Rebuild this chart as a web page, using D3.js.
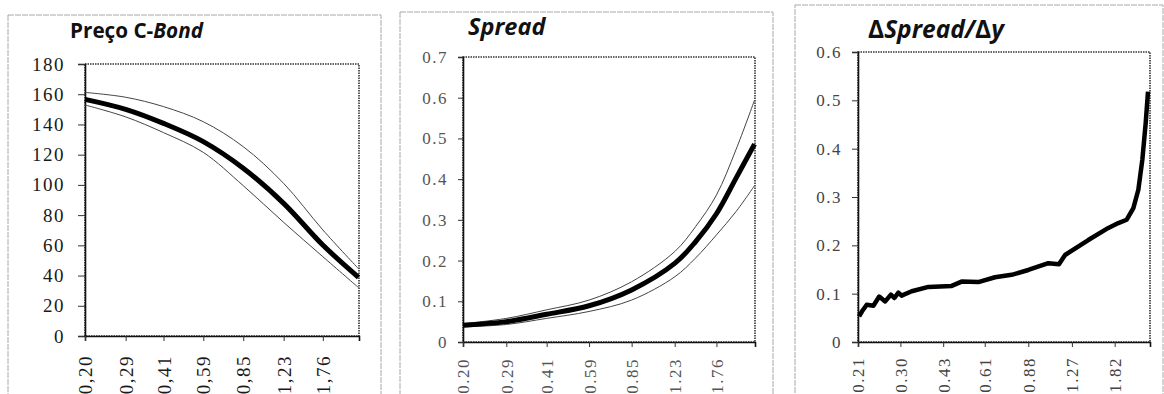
<!DOCTYPE html>
<html>
<head>
<meta charset="utf-8">
<script src="https://cdn.jsdelivr.net/npm/d3@7"></script>
<style>
  html, body { margin: 0; padding: 0; background: #fff; }
  svg { display: block; }
</style>
</head>
<body>
<svg id="chart" width="1164" height="394"></svg>
<script>
// ---- Preço C-Bond (price with upper / lower bands) ----
const priceX     = [0.20, 0.29, 0.41, 0.59, 0.85, 1.23, 1.76, 2.44];
const priceMid   = [156.6, 150.0, 140.7, 128.6, 111.0, 87.8, 60.2, 38.8];
const priceUpper = [161.2, 158.0, 151.8, 141.8, 125.3, 101.0, 70.2, 44.5];
const priceLower = [152.9, 145.0, 134.6, 121.5, 99.5, 75.2, 52.5, 32.0];
const priceTicksX = [0.20, 0.29, 0.41, 0.59, 0.85, 1.23, 1.76];
const priceTicksY = [0, 20, 40, 60, 80, 100, 120, 140, 160, 180];

// ---- Spread (with upper / lower bands) ----
const spreadX     = [0.20, 0.29, 0.41, 0.59, 0.85, 1.23, 1.47, 1.76, 2.08, 2.44];
const spreadMid   = [0.041, 0.050, 0.068, 0.089, 0.128, 0.193, 0.246, 0.315, 0.402, 0.486];
const spreadUpper = [0.045, 0.058, 0.079, 0.103, 0.148, 0.222, 0.283, 0.361, 0.472, 0.594];
const spreadLower = [0.037, 0.043, 0.058, 0.075, 0.103, 0.160, 0.206, 0.263, 0.320, 0.384];
const spreadTicksX = [0.20, 0.29, 0.41, 0.59, 0.85, 1.23, 1.76];
const spreadTicksY = [0, 0.1, 0.2, 0.3, 0.4, 0.5, 0.6, 0.7];

// ---- ΔSpread/Δy ----
const deltaX = [0.212, 0.217, 0.226, 0.239, 0.251, 0.264, 0.277, 0.285, 0.295, 0.303,
                0.330, 0.380, 0.462, 0.502, 0.578, 0.665, 0.765, 0.880, 1.042, 1.139,
                1.199, 1.458, 1.726, 1.877, 2.014, 2.130, 2.221, 2.297, 2.363, 2.409];
const deltaY = [0.053, 0.063, 0.077, 0.075, 0.094, 0.084, 0.098, 0.091, 0.102, 0.096,
                0.105, 0.114, 0.116, 0.125, 0.124, 0.134, 0.139, 0.149, 0.163, 0.161,
                0.180, 0.211, 0.236, 0.246, 0.253, 0.277, 0.315, 0.377, 0.453, 0.518];
const deltaTicksX = [0.21, 0.30, 0.43, 0.61, 0.88, 1.27, 1.82];
const deltaTicksY = [0, 0.1, 0.2, 0.3, 0.4, 0.5, 0.6];

const zip = (xs, ys) => xs.map((x, i) => ({ x, y: ys[i] }));

const SERIF = "'Liberation Serif', 'Times New Roman', serif";
const SANS = "'Open Sans', 'Noto Sans', sans-serif";

const panels = [
  {
    frame: { x: 8, y: 15, w: 373, h: 400 },
    plot: { l: 85, t: 64, r: 359, b: 336 },
    title: [{ t: "Preço C-", italic: false }, { t: "Bond", italic: true }],
    titlePos: [70, 38], titleSize: 20.7,
    xDomain: [0.20, 2.45], yDomain: [0, 180],
    xTicks: priceTicksX, yTicks: priceTicksY,
    xFmt: d => d.toFixed(2).replace(".", ","),
    yFmt: d => String(d),
    font: 19, spacing: 1.5, labelColor: "#1a1a1a", yTickLen: 7, yPad: 13, xLabelGap: 19,
    series: [
      { data: zip(priceX, priceUpper), w: 1, c: "#444" },
      { data: zip(priceX, priceLower), w: 1, c: "#444" },
      { data: zip(priceX, priceMid), w: 5, c: "#000" }
    ],
    curve: d3.curveCatmullRom
  },
  {
    frame: { x: 400, y: 12, w: 373, h: 400 },
    plot: { l: 463, t: 57, r: 755, b: 342 },
    title: [{ t: "Spread", italic: true }],
    titlePos: [468, 35], titleSize: 23.5,
    xDomain: [0.20, 2.45], yDomain: [0, 0.7],
    xTicks: spreadTicksX, yTicks: spreadTicksY,
    xFmt: d => d.toFixed(2),
    yFmt: d => d === 0 ? "0" : d.toFixed(1),
    font: 17, spacing: 1.5, labelColor: "#555", yTickLen: 5, yPad: 10, xLabelGap: 16,
    series: [
      { data: zip(spreadX, spreadUpper), w: 1, c: "#444" },
      { data: zip(spreadX, spreadLower), w: 1, c: "#444" },
      { data: zip(spreadX, spreadMid), w: 5, c: "#000" }
    ],
    curve: d3.curveCatmullRom
  },
  {
    frame: { x: 795, y: 5, w: 368, h: 400 },
    plot: { l: 858, t: 52, r: 1150, b: 342 },
    title: [{ t: "\u0394", italic: false }, { t: "Spread", italic: true }, { t: "/", italic: true },
            { t: "\u0394", italic: false }, { t: "y", italic: true }],
    titlePos: [868, 38], titleSize: 24.5,
    xDomain: [0.21, 2.45], yDomain: [0, 0.6],
    xTicks: deltaTicksX, yTicks: deltaTicksY,
    xFmt: d => d.toFixed(2),
    yFmt: d => d === 0 ? "0" : d.toFixed(1),
    font: 17, spacing: 1.5, labelColor: "#444", yTickLen: 6, yPad: 10, xLabelGap: 15,
    series: [
      { data: zip(deltaX, deltaY), w: 4.5, c: "#000" }
    ],
    curve: d3.curveLinear
  }
];

const svg = d3.select("#chart");

panels.forEach(p => {
  const g = svg.append("g");

  // outer chart frame
  g.append("rect")
    .attr("x", p.frame.x).attr("y", p.frame.y)
    .attr("width", p.frame.w).attr("height", p.frame.h)
    .attr("fill", "none").attr("stroke", "#a8a8a8")
    .attr("stroke-width", 1).attr("stroke-dasharray", "6,1");

  // title
  const title = g.append("text")
    .attr("x", p.titlePos[0]).attr("y", p.titlePos[1])
    .style("font-family", SANS)
    .style("font-weight", 700).style("font-size", p.titleSize + "px").attr("fill", "#111");
  p.title.forEach(s => {
    title.append("tspan").text(s.t).style("font-style", s.italic ? "italic" : "normal");
  });

  const x = d3.scaleLog().domain(p.xDomain).range([p.plot.l, p.plot.r]);
  const y = d3.scaleLinear().domain(p.yDomain).range([p.plot.b, p.plot.t]);

  // plot area border (dotted)
  g.append("rect")
    .attr("x", p.plot.l).attr("y", p.plot.t)
    .attr("width", p.plot.r - p.plot.l).attr("height", p.plot.b - p.plot.t)
    .attr("fill", "none").attr("stroke", "#333")
    .attr("stroke-width", 1.6).attr("stroke-dasharray", "1.5,1");

  // y axis
  const yAxis = g.append("g")
    .attr("transform", `translate(${p.plot.l},0)`)
    .call(d3.axisLeft(y).tickValues(p.yTicks).tickFormat(p.yFmt)
      .tickSize(p.yTickLen).tickPadding(p.yPad));
  yAxis.select(".domain").attr("stroke", "#111").attr("stroke-width", 1.6);
  yAxis.selectAll(".tick line").attr("stroke", "#333").attr("stroke-width", 1);
  yAxis.selectAll(".tick text")
    .style("font-family", SERIF)
    .style("font-size", p.font + "px")
    .style("letter-spacing", p.spacing + "px")
    .attr("fill", p.labelColor);

  // x axis with vertical labels
  const xAxis = g.append("g")
    .attr("transform", `translate(0,${p.plot.b})`)
    .call(d3.axisBottom(x).tickValues(p.xTicks).tickFormat(p.xFmt).tickSize(5));
  xAxis.select(".domain").attr("stroke", "#111").attr("stroke-width", 1.6);
  xAxis.selectAll(".tick line").attr("stroke", "#333").attr("stroke-width", 1);
  xAxis.selectAll(".tick text")
    .style("font-family", SERIF)
    .style("font-size", p.font + "px")
    .style("letter-spacing", p.spacing + "px")
    .attr("fill", p.labelColor)
    .attr("text-anchor", "end")
    .attr("transform", "rotate(-90)")
    .attr("x", -p.xLabelGap).attr("y", 0).attr("dy", "0.35em");

  // series lines
  const line = d3.line().x(d => x(d.x)).y(d => y(d.y)).curve(p.curve);
  p.series.forEach(s => {
    g.append("path")
      .datum(s.data)
      .attr("d", line)
      .attr("fill", "none")
      .attr("stroke", s.c)
      .attr("stroke-width", s.w)
      .attr("stroke-linejoin", "round")
      .attr("stroke-linecap", "butt");
  });
});
</script>
</body>
</html>
